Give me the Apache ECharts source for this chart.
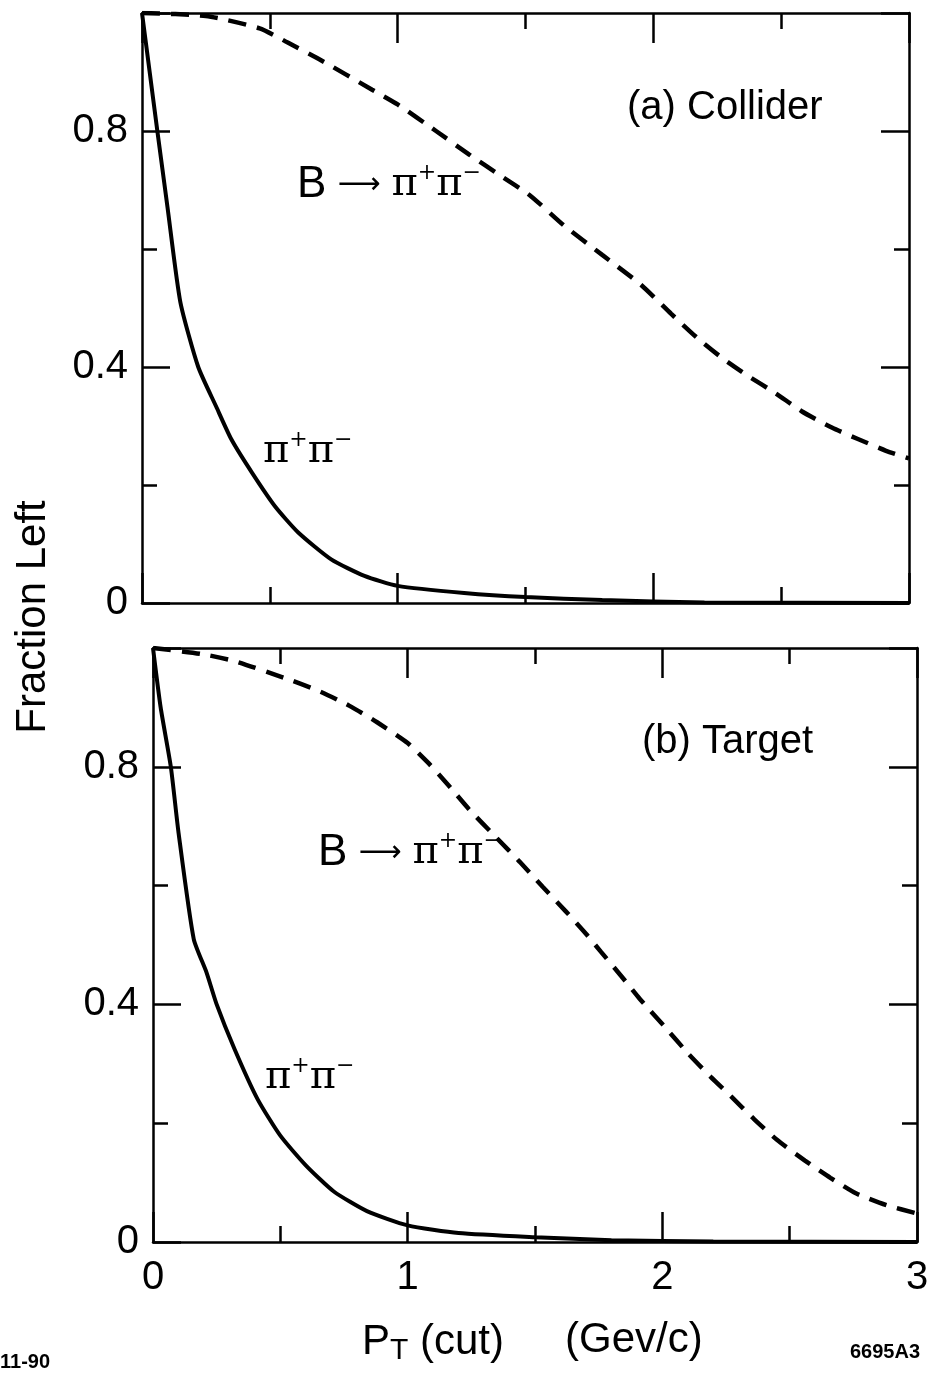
<!DOCTYPE html>
<html>
<head>
<meta charset="utf-8">
<script src="https://cdn.jsdelivr.net/npm/echarts@6/dist/echarts.min.js"></script>
<style>
  html, body { margin: 0; padding: 0; background: #fff; }
  #chart { width: 934px; height: 1375px; }
</style>
</head>
<body>
<div id="chart"></div>
<script>
// tick labels
const xTickLabels = ['0', '1', '2', '3']
const yTickLabels = ['0', '0.4', '0.8']

// (a) Collider : [pT cut, fraction left]
const colliderPiPi = [
  [0, 1.0], [0.03, 0.9], [0.06, 0.8], [0.1, 0.67], [0.15, 0.51], [0.22, 0.40],
  [0.29, 0.333], [0.35, 0.277], [0.43, 0.221], [0.52, 0.164], [0.61, 0.12],
  [0.74, 0.074], [0.87, 0.046], [1.0, 0.029], [1.26, 0.017], [1.5, 0.01],
  [1.8, 0.005], [2.2, 0.001], [3.0, 0]
]
const colliderB = [
  [0, 1.0], [0.25, 0.995], [0.46, 0.974], [0.57, 0.95], [0.7, 0.92], [0.9, 0.87],
  [1.0, 0.845], [1.15, 0.80], [1.28, 0.76], [1.4, 0.725], [1.52, 0.69],
  [1.65, 0.64], [1.8, 0.59], [1.95, 0.54], [2.07, 0.49], [2.17, 0.45],
  [2.27, 0.415], [2.37, 0.385], [2.48, 0.355], [2.58, 0.325], [2.7, 0.297],
  [2.8, 0.278], [2.91, 0.258], [3.0, 0.245]
]

// (b) Target
const targetPiPi = [
  [0, 1.0], [0.03, 0.9], [0.07, 0.8], [0.1, 0.69], [0.16, 0.51], [0.21, 0.454],
  [0.25, 0.40], [0.32, 0.325], [0.41, 0.241], [0.5, 0.179], [0.6, 0.129],
  [0.71, 0.085], [0.84, 0.052], [1.0, 0.028], [1.2, 0.015], [1.5, 0.008],
  [1.8, 0.003], [2.2, 0.001], [3.0, 0]
]
const targetB = [
  [0, 1.0], [0.19, 0.99], [0.32, 0.978], [0.54, 0.946], [0.66, 0.926],
  [0.77, 0.903], [0.88, 0.875], [1.0, 0.84], [1.08, 0.807], [1.16, 0.769],
  [1.24, 0.729], [1.35, 0.68], [1.44, 0.64], [1.53, 0.598], [1.62, 0.557],
  [1.7, 0.519], [1.76, 0.488], [1.84, 0.447], [1.91, 0.41], [2.01, 0.362],
  [2.1, 0.318], [2.19, 0.278], [2.27, 0.245], [2.36, 0.207], [2.45, 0.172],
  [2.56, 0.137], [2.66, 0.108], [2.76, 0.082], [2.88, 0.062], [3.0, 0.048]
]

const SANS = '"Liberation Sans", Arial, Helvetica, sans-serif'
const SERIF = '"DejaVu Serif", "Liberation Serif", serif'
const INK = '#000'
const frame = { show: true, onZero: false, lineStyle: { color: INK, width: 2.5 } }
const tickStyle = { color: INK, width: 2.5 }

function xPair(gi, showLabels) {
  const base = {
    type: 'value', gridIndex: gi, min: 0, max: 3, interval: 1, offset: 0,
    axisLine: frame,
    axisTick: { show: true, inside: true, length: 30, lineStyle: tickStyle },
    minorTick: { show: true, splitNumber: 2, length: 16, lineStyle: tickStyle },
    splitLine: { show: false }
  }
  return [
    {
      ...base, position: 'bottom',
      axisLabel: {
        show: showLabels, margin: 16, fontSize: 40, fontFamily: SANS, color: INK,
        formatter: v => xTickLabels.includes(String(v)) ? String(v) : ''
      }
    },
    { ...base, position: 'top', axisLabel: { show: false } }
  ]
}

function yQuad(gi) {
  const shortT = {
    type: 'value', gridIndex: gi, min: 0, max: 1, interval: 0.2, offset: 0,
    splitLine: { show: false }, axisLine: frame,
    axisTick: { show: true, inside: true, length: 15, lineStyle: tickStyle }
  }
  const longT = {
    type: 'value', gridIndex: gi, min: 0, max: 1, interval: 0.4, offset: 0,
    splitLine: { show: false }, axisLine: { show: false, onZero: false }, axisLabel: { show: false },
    axisTick: { show: true, inside: true, length: 28, lineStyle: tickStyle }
  }
  return [
    {
      ...shortT, position: 'left',
      axisLabel: {
        margin: 14, fontSize: 40, fontFamily: SANS, color: INK,
        formatter: v => yTickLabels.includes(String(v)) ? String(v) : ''
      }
    },
    { ...longT, position: 'left' },
    { ...shortT, position: 'right', axisLabel: { show: false } },
    { ...longT, position: 'right' }
  ]
}

function curve(data, xi, yi, dashed) {
  return {
    type: 'line', xAxisIndex: xi, yAxisIndex: yi, data: data,
    symbol: 'none', smooth: 0.2, clip: true,
    lineStyle: dashed ? { color: INK, width: 4.5, type: [18, 11] } : { color: INK, width: 4 }
  }
}

const piRich = {
  p: { fontFamily: SERIF, fontSize: 40, lineHeight: 46, color: INK },
  sup: { fontFamily: SERIF, fontSize: 22, lineHeight: 22, verticalAlign: 'top', color: INK },
  s: { fontFamily: SANS, fontSize: 44, lineHeight: 46, color: INK },
  ar: { fontFamily: '"DejaVu Sans", sans-serif', fontSize: 30, lineHeight: 46, color: INK }
}

function label(x, y, text, extra) {
  return {
    type: 'text', x: x, y: y, silent: true,
    style: Object.assign({
      text: text, fill: INK, fontFamily: SANS, fontSize: 40,
      align: 'left', verticalAlign: 'middle'
    }, extra || {})
  }
}

const chart = echarts.init(document.getElementById('chart'))
chart.setOption({
  animation: false,
  backgroundColor: '#fff',
  grid: [
    { left: 142, right: 25, top: 13, height: 590 },
    { left: 153, right: 17, top: 648, height: 594 }
  ],
  xAxis: [...xPair(0, false), ...xPair(1, true)],
  yAxis: [...yQuad(0), ...yQuad(1)],
  series: [
    curve(colliderPiPi, 0, 0, false),
    curve(colliderB, 0, 0, true),
    curve(targetPiPi, 2, 4, false),
    curve(targetB, 2, 4, true)
  ],
  graphic: [
    label(627, 108, '(a) Collider'),
    label(642, 742, '(b) Target'),
    label(297, 185, '{s|B} {ar|⟶} {p|π}{sup|+}{p|π}{sup|−}', { rich: piRich }),
    label(318, 853, '{s|B} {ar|⟶} {p|π}{sup|+}{p|π}{sup|−}', { rich: piRich }),
    label(263, 452, '{p|π}{sup|+}{p|π}{sup|−}', { rich: piRich }),
    label(265, 1078, '{p|π}{sup|+}{p|π}{sup|−}', { rich: piRich }),
    Object.assign(label(33, 617, 'Fraction Left', { align: 'center', fontSize: 42 }), { rotation: Math.PI / 2 }),
    label(362, 1342, '{p|P}{t|T}{n| (cut)}', {
      rich: {
        p: { fontFamily: SANS, fontSize: 42, lineHeight: 48, color: INK },
        t: { fontFamily: SANS, fontSize: 30, lineHeight: 30, verticalAlign: 'bottom', color: INK },
        n: { fontFamily: SANS, fontSize: 42, lineHeight: 48, color: INK }
      }
    }),
    label(565, 1340, '(Gev/c)', { fontSize: 42 }),
    label(0, 1362, '11-90', { fontSize: 20, fontWeight: 'bold' }),
    label(850, 1352, '6695A3', { fontSize: 20, fontWeight: 'bold' })
  ]
})
</script>
</body>
</html>
